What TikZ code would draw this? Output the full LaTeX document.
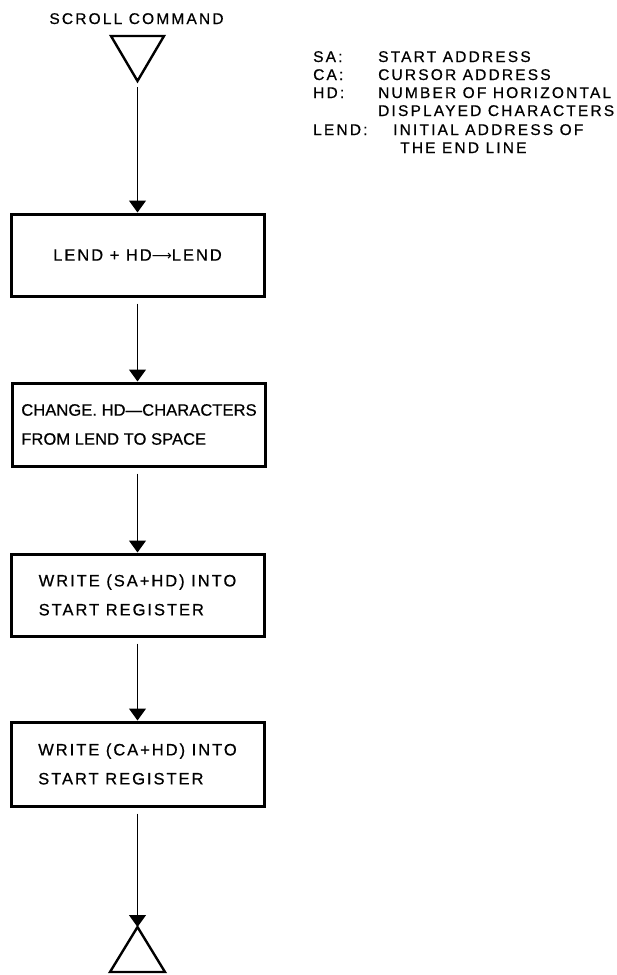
\documentclass[tikz,border=0pt]{standalone}
\usepackage{fontspec}
\setmainfont{Liberation Sans}
\newfontfamily\lett[LetterSpace=12,FakeBold=0.6]{Liberation Sans}
\newfontfamily\lettl[LetterSpace=14,FakeBold=0.6]{Liberation Sans}
\newfontfamily\lettn[LetterSpace=0.5,FakeBold=0.6]{Liberation Sans}
\newfontfamily\arrowfont{DejaVu Sans}
\usetikzlibrary{arrows.meta}
\begin{document}
\begin{tikzpicture}[x=1pt,y=-1pt,
  boxstyle/.style={draw, line width=3pt, minimum width=253pt, inner sep=0pt,
    font=\lett\fontsize{16.5}{29}\selectfont, align=left},
  flow/.style={line width=1.1pt, -{Triangle[width=17pt,length=12pt]}, shorten <=6pt},
  term/.style={line width=2.4pt, line join=miter},
  legend/.style={anchor=base west, inner sep=0pt, font=\lettl\fontsize{15.5}{18}\selectfont}]
\useasboundingbox (0,0) rectangle (617,975);

% title
\node[legend, anchor=base] (title) at (136.5,24) {SCROLL COMMAND};

% legend
\node[legend] (lsa) at (313,62) {SA:};
\node[legend] (dsa) at (378,62) {START ADDRESS};
\node[legend] (lca) at (313,80) {CA:};
\node[legend] (dca) at (378,80) {CURSOR ADDRESS};
\node[legend] (lhd) at (313,98) {HD:};
\node[legend] (dhd) at (378,98) {NUMBER OF HORIZONTAL};
\node[legend] (dhd2) at (378,116) {DISPLAYED CHARACTERS};
\node[legend] (lle) at (313,135) {LEND:};
\node[legend] (dle) at (393,135) {INITIAL ADDRESS OF};
\node[legend] (dle2) at (400,153) {THE END LINE};

% start terminal
\coordinate (t1a) at (111,36);
\coordinate (t1b) at (164,36);
\coordinate (t1c) at (137.5,81);
\draw[term] (t1a) -- (t1b) -- (t1c) -- cycle;

% boxes
\node[boxstyle, minimum height=82pt] (b1) at (137.5,255) {LEND + HD{\arrowfont\fontsize{14}{14}\selectfont ⟶}LEND};
\node[boxstyle, minimum height=83pt, font=\lettn\fontsize{16.5}{29}\selectfont] (b2) at (139,424.5) {CHANGE. HD—CHARACTERS\\FROM LEND TO SPACE};
\node[boxstyle, minimum height=82pt] (b3) at (137.5,595) {WRITE (SA+HD) INTO\\START REGISTER};
\node[boxstyle, minimum height=84pt] (b4) at (137.5,764) {WRITE (CA+HD) INTO\\START REGISTER};

% end terminal
\coordinate (t2c) at (137.5,927);
\coordinate (t2a) at (110,972);
\coordinate (t2b) at (165,972);
\draw[term] (t2c) -- (t2a) -- (t2b) -- cycle;

% connectors
\draw[flow] (t1c) -- (b1.north);
\draw[flow] (b1.south) -- (b1.south |- b2.north);
\draw[flow] (b2.south -| b1.south) -- (b3.north);
\draw[flow] (b3.south) -- (b4.north);
\draw[flow] (b4.south) -- (t2c);
\end{tikzpicture}
\end{document}
